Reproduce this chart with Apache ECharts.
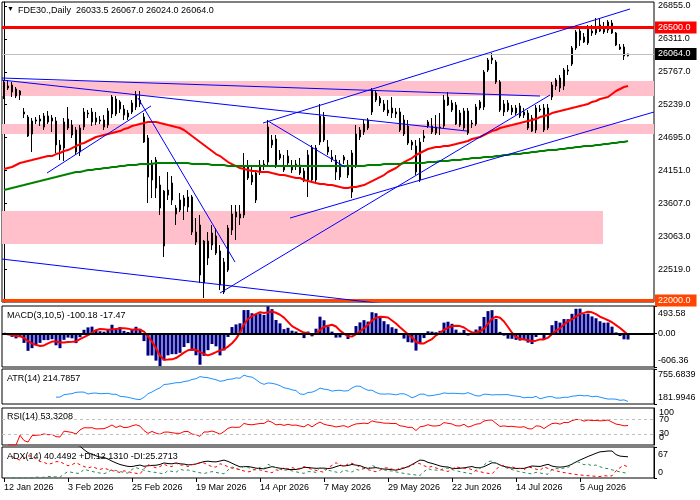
<!DOCTYPE html>
<html lang="en">
<head>
<meta charset="UTF-8">
<title>FDE30 Daily</title>
<script src="https://cdn.jsdelivr.net/npm/echarts@6.0.0/dist/echarts.min.js"></script>
<style>
  html, body { margin: 0; padding: 0; background: #fff; }
  #chart { width: 700px; height: 500px; }
</style>
</head>
<body>
<div id="chart"></div>
<script>
// daily bars, 12 Jan 2026 .. 21 Aug 2026
var opens = [25338,25536,25553,25487,25388,25108,25025,24745,24959,24959,
  24860,25042,25009,24959,24564,24514,24992,24893,24811,24448,
  24860,25075,24943,25009,24976,24860,24893,25075,25322,25157,
  25157,25025,25108,25190,25305,25025,24679,23987,24316,23904,
  22899,23739,23937,23426,23657,23558,23542,23706,23129,23245,
  22289,22701,22915,23064,22816,22140,22503,23162,23459,23360,
  23410,24201,24069,23657,24119,24217,24283,24564,24663,24415,
  24217,24267,24152,24217,24234,24135,23987,24514,23987,24613,
  25025,24531,24366,24316,24036,24316,24234,23789,24234,24696,
  24778,24976,25108,25421,25338,25240,25091,25174,25075,25108,
  24976,24877,24564,24547,23987,24679,24877,24877,24860,24844,
  24877,25355,25256,25223,25091,24844,25124,24910,24910,25174,
  25190,25800,25965,25932,25602,25108,25256,25108,25174,25207,
  25058,25091,25009,24811,25157,25174,24844,25355,25536,25668,
  25536,25800,25899,26163,26295,26344,26245,26410,26410,26542,
  26426,26459,26575,26410,26179,26179,26033.5];
var highs = [25635,25635,25602,25520,25470,25174,25058,25009,25025,25058,
  25091,25124,25058,25025,24646,25009,25190,24976,24860,24893,
  25174,25141,25174,25108,25042,25058,25174,25388,25371,25305,
  25223,25141,25305,25454,25454,25091,24729,24316,24366,24053,
  23822,24119,24053,23575,23772,23739,23822,23739,23360,23410,
  22998,23129,23245,23195,22915,22701,23245,23575,23575,23575,
  24432,24316,24234,24152,24316,24316,24976,24729,24729,24481,
  24399,24481,24316,24316,24349,24185,24481,24564,24564,25240,
  25108,24646,24481,24399,24316,24399,24316,24481,24893,24860,
  24976,25009,25503,25470,25371,25305,25305,25355,25174,25174,
  25058,24976,24646,24646,24679,24811,24976,25009,25058,25091,
  25388,25437,25305,25273,25141,25174,25174,24976,25240,25305,
  25800,25998,26080,25965,25635,25305,25305,25223,25223,25256,
  25174,25141,25058,25223,25223,25240,25240,25602,25668,25718,
  25833,25882,26196,26459,26492,26410,26542,26542,26657,26657,
  26591,26624,26624,26426,26229,26229,26067];
var lows = [25322,25470,25355,25338,25305,25009,24696,24448,24910,24877,
  24811,24910,24778,24432,24316,24300,24811,24679,24399,24382,
  24811,25009,24877,24893,24910,24811,24844,25009,25042,25091,
  24976,24976,25075,25141,25190,24597,23608,23690,23690,23410,
  22718,23657,23575,23245,23459,23327,23459,23080,22915,22289,
  22041,22585,22833,22750,22173,22107,22470,23080,22998,23245,
  23360,23987,23904,23608,24069,24152,24234,24514,24185,24316,
  24119,24217,24102,24152,24069,23954,23706,23954,23937,24564,
  24613,24399,24283,23987,23987,24250,24020,23690,24185,24646,
  24729,24811,25058,25273,25207,25108,25042,25009,25009,24778,
  24712,24564,24481,24069,23954,24613,24844,24745,24729,24729,
  24844,25207,25108,24893,24860,24811,24729,24844,24877,25141,
  25141,25767,25899,25569,25108,25042,25108,25058,25058,25009,
  25009,24811,24778,24761,25108,24778,24811,25305,25470,25437,
  25470,25718,25866,26130,26196,26245,26212,26361,26377,26426,
  26394,26410,26394,26196,26130,25965,26024];
var closes = [25602,25503,25437,25371,25454,25075,24712,24959,24976,24992,
  25042,24943,24959,24564,24481,24943,24844,24729,24448,24844,
  25108,25091,25108,24943,24959,24976,25124,25355,25075,25273,
  25058,25091,25256,25388,25240,24613,24036,24267,23855,23525,
  23805,23822,23657,23525,23492,23690,23706,23129,22965,22421,
  22981,22981,23113,22783,22256,22635,23195,23426,23377,23426,
  24201,24020,23954,24102,24234,24250,24860,24646,24217,24349,
  24152,24382,24217,24250,24102,23970,24399,23987,24514,25042,
  24646,24448,24333,24119,24250,24366,24069,24432,24745,24811,
  24910,24844,25470,25305,25256,25141,25141,25091,25108,24811,
  24745,24597,24613,24119,24613,24712,24943,24778,24761,24860,
  25305,25223,25141,24910,24893,25124,24761,24926,25190,25273,
  25767,25965,25998,25602,25141,25240,25141,25174,25091,25042,
  25108,24844,24794,25174,25141,24811,25174,25553,25635,25503,
  25800,25784,26163,26426,26443,26262,26509,26443,26492,26443,
  26492,26591,26410,26212,26146,26031,26064];

// moving averages as drawn (red = fast, green = slow)
var maRed = [24168,24185,24201,24234,24267,24283,24300,24316,24333,24349,
  24366,24382,24382,24415,24432,24465,24481,24514,24547,24580,
  24597,24630,24663,24696,24712,24729,24745,24761,24778,24794,
  24827,24844,24877,24893,24910,24926,24943,24943,24943,24926,
  24910,24893,24877,24860,24844,24811,24761,24712,24663,24613,
  24564,24514,24465,24415,24382,24333,24283,24250,24217,24185,
  24168,24152,24135,24135,24119,24119,24119,24102,24086,24069,
  24069,24053,24036,24020,24020,23987,23970,23954,23937,23921,
  23921,23904,23904,23888,23871,23855,23855,23871,23871,23888,
  23904,23937,23970,24003,24036,24069,24119,24152,24185,24234,
  24283,24316,24349,24399,24432,24465,24498,24514,24531,24531,
  24547,24547,24564,24580,24597,24613,24630,24663,24679,24696,
  24729,24761,24794,24811,24844,24860,24877,24893,24910,24926,
  24943,24959,24976,24992,25025,25042,25058,25091,25108,25124,
  25141,25157,25174,25190,25207,25223,25240,25273,25289,25322,
  25338,25355,25404,25454,25487,25520,25536];
var maGreen = [23822,23838,23855,23871,23888,23904,23921,23937,23954,23970,
  23987,24003,24020,24036,24053,24069,24086,24102,24119,24119,
  24135,24152,24152,24168,24168,24185,24185,24201,24201,24217,
  24217,24234,24234,24234,24250,24250,24250,24250,24267,24267,
  24267,24267,24267,24267,24267,24267,24267,24250,24250,24250,
  24250,24250,24234,24234,24234,24234,24217,24217,24217,24217,
  24217,24217,24217,24217,24217,24217,24217,24217,24217,24217,
  24217,24217,24217,24217,24217,24217,24217,24217,24217,24217,
  24217,24217,24217,24217,24217,24217,24217,24217,24217,24217,
  24217,24234,24234,24234,24234,24250,24250,24250,24250,24250,
  24267,24267,24267,24267,24267,24267,24283,24283,24283,24300,
  24300,24300,24316,24316,24316,24333,24333,24349,24349,24349,
  24366,24366,24366,24382,24382,24399,24399,24415,24415,24415,
  24432,24432,24448,24448,24465,24465,24481,24481,24481,24498,
  24498,24514,24514,24531,24531,24547,24547,24547,24564,24564,
  24580,24580,24597,24597,24613,24613,24630];

// drawn objects: [barFrom, priceFrom, barTo, priceTo]
var trendLines = [
  [-0.5, 25668, 134, 25371],
  [-0.5, 25635, 115.75, 24794],
  [-0.5, 22684, 95.25, 21943],
  [10.75, 24102, 36.75, 25207],
  [33.5, 25338, 57.75, 22635],
  [54, 22124, 136.5, 25388],
  [64.75, 24926, 156.5, 26806],
  [71.5, 23360, 162.5, 25108],
  [66, 24959, 85.25, 24201]
];
var zones = [
  [-0.5, 25619, 162.5, 25371],
  [-0.5, 24910, 162.5, 24745],
  [-0.5, 23476, 149.75, 22932]
];
var levelRed = 26500, levelNow = 26064, levelOrange = 22000;

var priceTicks = [22519, 23063, 23607, 24151, 24695, 25239, 25767, 26311, 26855];
var macdTicks = [-606.36, 0, 493.58];
var atrTicks = [181.9946, 755.6839];
var rsiLevels = [70, 30];
var adxTicks = [0, 67];

// trading days (exchange holidays skipped), a few empty slots on the right
var holidays = ['2026-04-03', '2026-04-06', '2026-05-01'];
var months = ['Jan','Feb','Mar','Apr','May','Jun','Jul','Aug','Sep','Oct','Nov','Dec'];
var dates = [];
var day = new Date(Date.UTC(2026, 0, 12));
while (dates.length < 163) {
  var wd = day.getUTCDay();
  var iso = day.toISOString().slice(0, 10);
  if (wd !== 0 && wd !== 6 && holidays.indexOf(iso) < 0)
    dates.push(day.getUTCDate() + ' ' + months[day.getUTCMonth()] + ' ' + day.getUTCFullYear());
  day.setUTCDate(day.getUTCDate() + 1);
}

// indicators from the bars
function ema(src, n) {
  var k = 2 / (n + 1), out = [];
  for (var i = 0; i < src.length; i++) out.push(i === 0 ? src[0] : src[i] * k + out[i - 1] * (1 - k));
  return out;
}
var n = closes.length;
var e3 = ema(closes, 3), e10 = ema(closes, 10);
var macdMain = closes.map(function (c, i) { return +(e3[i] - e10[i]).toFixed(2); });
var macdSignal = macdMain.map(function (v, i) {
  var s = Math.max(0, i - 4), sum = 0;
  for (var j = s; j <= i; j++) sum += macdMain[j];
  return +(sum / (i - s + 1)).toFixed(2);
});

var tr = closes.map(function (c, i) {
  if (i === 0) return highs[0] - lows[0];
  return Math.max(highs[i] - lows[i], Math.abs(highs[i] - closes[i - 1]), Math.abs(lows[i] - closes[i - 1]));
});
var atr = tr.map(function (v, i) {
  if (i < 13) return '-';
  var s = 0;
  for (var j = i - 13; j <= i; j++) s += tr[j];
  return +(s / 14).toFixed(4);
});

var rsi = ['-'], ag = 0, al = 0;
for (var i = 1; i < n; i++) {
  var ch = closes[i] - closes[i - 1];
  var g = Math.max(ch, 0), l = Math.max(-ch, 0);
  if (i <= 14) { ag = (ag * (i - 1) + g) / i; al = (al * (i - 1) + l) / i; }
  else { ag = (ag * 13 + g) / 14; al = (al * 13 + l) / 14; }
  rsi.push(+(al === 0 ? 100 : 100 - 100 / (1 + ag / al)).toFixed(2));
}

// ADX: first bar with directional movement starts the averages
var pRaw = [], mRaw = [];
for (i = 2; i < n; i++) {
  var pdm = highs[i] - highs[i - 1], mdm = lows[i - 1] - lows[i];
  if (pdm < 0) pdm = 0;
  if (mdm < 0) mdm = 0;
  if (pdm === mdm) { pdm = 0; mdm = 0; } else if (pdm < mdm) pdm = 0; else mdm = 0;
  pRaw.push(tr[i] ? 100 * pdm / tr[i] : 0);
  mRaw.push(tr[i] ? 100 * mdm / tr[i] : 0);
}
var pdi = ema(pRaw, 14), mdi = ema(mRaw, 14);
var dx = pdi.map(function (p, k) { var s = p + mdi[k]; return s ? 100 * Math.abs(p - mdi[k]) / s : 0; });
var adx = ema(dx, 14);
function pad2(arr) { return ['-', '-'].concat(arr.map(function (v) { return +v.toFixed(2); })); }
var plusDI = pad2(pdi), minusDI = pad2(mdi), adxLine = pad2(adx);

var ohlc = opens.map(function (o, k) { return [o, closes[k], lows[k], highs[k]]; });

// ---- chart ----
var FONT = 'Liberation Sans';
var txt = { fontFamily: FONT, fontSize: 9, color: '#000', fontWeight: 'normal' };

function sideAxis(gridIndex, min, max, ticks, fmt, padTop, padBottom) {
  return {
    type: 'value', gridIndex: gridIndex, position: 'right', min: min, max: max,
    axisLine: { show: true, lineStyle: { color: '#000', width: 1 } },
    axisTick: { show: true, length: 3, customValues: ticks, lineStyle: { color: '#000' } },
    axisLabel: {
      show: ticks.length > 0,
      customValues: ticks, margin: 4, showMinLabel: true, showMaxLabel: true, hideOverlap: false,
      fontFamily: FONT, fontSize: 9, color: '#000',
      formatter: function (v) {
        var s = fmt(v);
        if (padTop && Math.abs(v - max) < 1e-6) return '{t|' + s + '}';
        if (padBottom && Math.abs(v - min) < 1e-6) return '{b|' + s + '}';
        return s;
      },
      rich: {
        t: { fontFamily: FONT, fontSize: 9, color: '#000', padding: [padTop || 0, 0, 0, 0] },
        b: { fontFamily: FONT, fontSize: 9, color: '#000', padding: [0, 0, padBottom || 0, 0] }
      }
    },
    splitLine: { show: false }
  };
}
function hiddenCat(gridIndex) {
  return { type: 'category', gridIndex: gridIndex, data: dates, boundaryGap: true, show: false };
}
function gridBox(top, height) {
  return { left: 2, right: 46, top: top, height: height, show: true, borderColor: '#000', borderWidth: 1,
    backgroundColor: 'transparent', containLabel: false, outerBoundsMode: 'none' };
}
function labelEvery(idx) { return idx % 16 === 0 && idx <= 150; }

var series = [];
series.push({
  type: 'line', xAxisIndex: 1, yAxisIndex: 0, data: [], z: 1, silent: true,
  markArea: {
    silent: true, itemStyle: { color: '#ffc0cb' },
    data: zones.map(function (zn) { return [{ coord: [zn[0], zn[1]] }, { coord: [zn[2], zn[3]] }]; })
  }
});
series.push({
  type: 'line', xAxisIndex: 1, yAxisIndex: 0, data: [], z: 2, silent: true,
  markLine: {
    symbol: 'none', silent: true, animation: false,
    data: [
      { yAxis: levelRed, lineStyle: { color: '#ff0000', width: 3, type: 'solid' },
        label: { backgroundColor: '#ff0000' } },
      { yAxis: levelNow, lineStyle: { color: '#c0c0c0', width: 1, type: 'solid' },
        label: { backgroundColor: '#000000' } },
      { yAxis: levelOrange, lineStyle: { color: '#ff4500', width: 3, type: 'solid' },
        label: { backgroundColor: '#ff4500' } }
    ],
    label: {
      position: 'end', distance: 1, color: '#fff', fontFamily: FONT, fontSize: 9,
      padding: [2, 6, 1, 3],
      formatter: function (p) { return Number(p.value).toFixed(1); }
    }
  }
});
series.push({
  type: 'candlestick', xAxisIndex: 0, yAxisIndex: 0, data: ohlc, barWidth: 2, z: 3, silent: true,
  itemStyle: { color: '#ffffff', color0: '#000000', borderColor: '#000000', borderColor0: '#000000', borderWidth: 1 }
});
series.push({ type: 'line', xAxisIndex: 0, yAxisIndex: 0, data: maRed, symbol: 'none', z: 4, silent: true,
  lineStyle: { color: '#ff0000', width: 2 } });
series.push({ type: 'line', xAxisIndex: 0, yAxisIndex: 0, data: maGreen, symbol: 'none', z: 4, silent: true,
  lineStyle: { color: '#008000', width: 2 } });
trendLines.forEach(function (t) {
  series.push({ type: 'line', xAxisIndex: 1, yAxisIndex: 0, data: [[t[0], t[1]], [t[2], t[3]]],
    symbol: 'none', z: 5, silent: true, lineStyle: { color: '#0000ff', width: 1 } });
});

// MACD
series.push({ type: 'bar', xAxisIndex: 2, yAxisIndex: 1, data: macdMain, barWidth: 3, silent: true,
  itemStyle: { color: '#000080' },
  markLine: { symbol: 'none', silent: true, label: { show: false },
    data: [{ yAxis: 0 }], lineStyle: { color: '#000', width: 2, type: 'solid' } } });
series.push({ type: 'line', xAxisIndex: 2, yAxisIndex: 1, data: macdSignal, symbol: 'none', silent: true,
  lineStyle: { color: '#ff0000', width: 2 }, z: 4 });
// ATR
series.push({ type: 'line', xAxisIndex: 3, yAxisIndex: 2, data: atr, symbol: 'none', silent: true,
  lineStyle: { color: '#1e90ff', width: 1 } });
// RSI: 70 / 30 dashed levels labelled at the right edge
series.push({ type: 'line', xAxisIndex: 4, yAxisIndex: 3, data: rsi, symbol: 'none', silent: true,
  lineStyle: { color: '#ff0000', width: 1 },
  markLine: { symbol: 'none', silent: true,
    label: { show: true, position: 'end', distance: 5, color: '#000', fontFamily: FONT, fontSize: 9,
      formatter: function (p) { return String(p.value); } },
    data: rsiLevels.map(function (v) { return { yAxis: v }; }),
    lineStyle: { color: '#c0c0c0', width: 1, type: [3, 3] } } });
// ADX
series.push({ type: 'line', xAxisIndex: 5, yAxisIndex: 4, data: adxLine, symbol: 'none', silent: true,
  lineStyle: { color: '#000', width: 1 } });
series.push({ type: 'line', xAxisIndex: 5, yAxisIndex: 4, data: plusDI, symbol: 'none', silent: true,
  lineStyle: { color: '#2e8b57', width: 1, type: [3, 3] } });
series.push({ type: 'line', xAxisIndex: 5, yAxisIndex: 4, data: minusDI, symbol: 'none', silent: true,
  lineStyle: { color: '#ff0000', width: 1, type: [3, 3] } });

var option = {
  animation: false,
  backgroundColor: '#fff',
  title: [
    { text: '▼', left: 7, top: 6, padding: 0, textStyle: Object.assign({}, txt, { fontSize: 7 }) },
    { text: 'FDE30.,Daily  26033.5 26067.0 26024.0 26064.0', left: 18, top: 6, padding: 0, textStyle: txt },
    { text: 'MACD(3,10,5) -100.18 -17.47', left: 7, top: 311, padding: 0, textStyle: txt },
    { text: 'ATR(14) 214.7857', left: 7, top: 374, padding: 0, textStyle: txt },
    { text: 'RSI(14) 53.3208', left: 7, top: 412, padding: 0, textStyle: txt },
    { text: 'ADX(14) 40.4492 +DI:12.1310 -DI:25.2713', left: 7, top: 452, padding: 0, textStyle: txt },
    // RSI scale ends, drawn just inside the panel edges like the terminal does
    { text: '100', left: 659, top: 408, padding: 0, textStyle: txt },
    { text: '0', left: 659, top: 433, padding: 0, textStyle: txt }
  ],
  grid: [gridBox(2, 300), gridBox(306, 61), gridBox(369, 35), gridBox(408, 37), gridBox(447, 31)],
  xAxis: [
    hiddenCat(0),
    { type: 'value', gridIndex: 0, min: -0.5, max: 162.5, show: false },
    hiddenCat(1), hiddenCat(2), hiddenCat(3),
    {
      type: 'category', gridIndex: 4, data: dates, boundaryGap: true,
      axisLine: { show: false },
      axisTick: { show: true, interval: labelEvery, alignWithLabel: true, length: 4, lineStyle: { color: '#000' } },
      axisLabel: { interval: labelEvery, align: 'left', margin: 5, fontFamily: FONT, fontSize: 9, color: '#000' },
      splitLine: { show: false }
    }
  ],
  yAxis: [
    sideAxis(0, 21976, 26921, priceTicks, function (v) { return v.toFixed(1); }),
    sideAxis(1, -606.36, 493.58, macdTicks, function (v) { return v.toFixed(2); }, 15, 12),
    sideAxis(2, 181.9946, 755.6839, atrTicks, function (v) { return v.toFixed(4); }, 12, 12),
    sideAxis(3, 0, 100, [], function (v) { return String(v); }),
    sideAxis(4, 0, 67, adxTicks, function (v) { return String(v); }, 16, 10)
  ],
  series: series
};

var chart = echarts.init(document.getElementById('chart'));
chart.setOption(option);
</script>
</body>
</html>
